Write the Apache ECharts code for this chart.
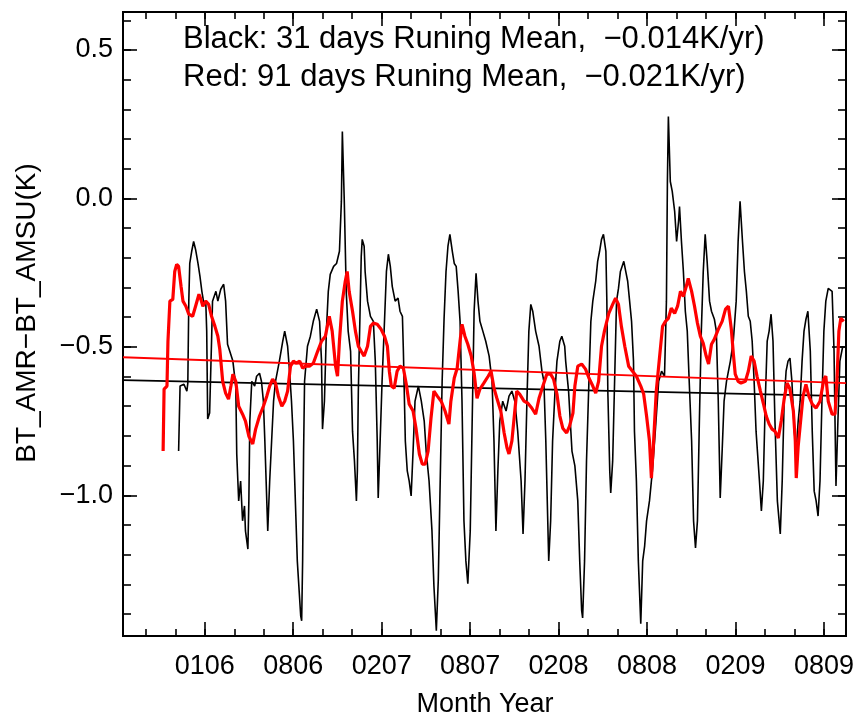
<!DOCTYPE html>
<html><head><meta charset="utf-8">
<script src="https://cdn.jsdelivr.net/npm/echarts@6/dist/echarts.min.js"></script>
<style>html,body{margin:0;padding:0;background:#fff}#c{width:857px;height:719px}</style>
</head><body><div id="c"></div>
<script>
// x unit: days from the "0106" tick; ticks every half year
const xTickLabels = ['0106','0806','0207','0807','0208','0808','0209','0809'];
const xTickDays = [0, 182.6, 365.2, 547.8, 730.4, 913.0, 1095.6, 1278.2];
const xMinorStep = 60.87;
const yTickValues = [-1.0, -0.5, 0.0, 0.5];
const xMin = -168.8, xMax = 1323.6, yMin = -1.474, yMax = 0.628;

const blackDays = [-54,-51,-43,-37,-35,-33,-31,-27,-23,-19,
-14,-10,-6,-2,2,4,6,10,14,16,
23,27,33,39,43,47,58,64,66,70,
74,78,82,84,89,91,93,97,103,107,
113,117,121,124,128,130,134,138,142,146,
154,161,165,171,175,179,183,187,191,198,
200,202,204,206,212,218,224,231,237,241,
243,247,251,255,259,266,272,278,282,284,
288,292,296,301,305,309,313,315,317,321,
323,325,329,331,336,342,348,352,356,358,
362,366,371,375,379,383,387,393,399,403,
408,410,414,418,422,426,430,434,441,447,
453,457,463,469,473,478,482,486,490,494,
498,502,506,511,515,519,523,527,531,535,
539,543,548,552,556,560,564,568,574,580,
587,593,597,601,605,609,615,622,628,634,
640,646,653,657,661,665,669,673,677,683,
690,696,700,704,708,710,714,718,723,727,
733,737,743,745,751,758,764,770,774,778,
780,784,788,793,797,801,807,811,815,819,
823,828,830,832,836,838,842,846,850,854,
858,865,869,873,877,881,885,887,891,895,
900,904,908,912,918,924,930,937,943,949,
953,955,957,961,965,970,974,978,980,984,
988,992,996,1000,1005,1009,1013,1017,1021,1025,
1029,1033,1037,1042,1046,1052,1056,1060,1064,1068,
1072,1077,1081,1085,1091,1097,1101,1105,1110,1114,
1118,1122,1126,1130,1134,1138,1145,1149,1153,1157,
1161,1165,1169,1173,1177,1182,1188,1192,1196,1200,
1204,1208,1212,1217,1221,1225,1229,1233,1237,1241,
1245,1250,1254,1258,1262,1266,1270,1274,1278,1282,
1287,1291,1295,1299,1301,1303,1307,1311,1317];
const blackValues = [
-0.851,-0.632,-0.626,-0.649,-0.622,-0.346,-0.219,-0.178,-0.145,-0.172,
-0.219,-0.262,-0.313,-0.353,-0.346,-0.447,-0.743,-0.723,-0.481,-0.346,
-0.313,-0.346,-0.306,-0.289,-0.346,-0.491,-0.548,-0.632,-0.861,-1.019,
-0.952,-1.086,-1.036,-1.120,-1.181,-1.019,-0.750,-0.616,-0.632,-0.599,
-0.589,-0.616,-0.683,-0.817,-1.019,-1.120,-0.952,-0.817,-0.683,-0.616,
-0.548,-0.481,-0.447,-0.498,-0.582,-0.683,-0.817,-1.019,-1.221,-1.406,
-1.423,-1.221,-0.851,-0.616,-0.498,-0.464,-0.414,-0.373,-0.414,-0.548,
-0.777,-0.683,-0.447,-0.313,-0.256,-0.229,-0.219,-0.178,-0.010,0.225,
-0.010,-0.313,-0.447,-0.515,-0.784,-0.885,-1.019,-0.918,-0.649,-0.346,
-0.195,-0.138,-0.161,-0.246,-0.346,-0.397,-0.414,-0.548,-0.817,-1.009,
-0.817,-0.616,-0.414,-0.246,-0.188,-0.229,-0.296,-0.346,-0.336,-0.380,
-0.397,-0.515,-0.817,-0.918,-0.952,-1.002,-0.851,-0.683,-0.632,-0.683,
-0.750,-0.851,-0.952,-1.120,-1.305,-1.456,-1.288,-0.952,-0.616,-0.404,
-0.246,-0.161,-0.121,-0.178,-0.219,-0.229,-0.313,-0.414,-0.683,-1.086,
-1.221,-1.298,-1.120,-0.750,-0.380,-0.252,-0.346,-0.414,-0.447,-0.481,
-0.531,-0.616,-0.817,-1.120,-0.918,-0.750,-0.683,-0.716,-0.666,-0.649,
-0.683,-0.784,-0.952,-1.130,-0.952,-0.683,-0.447,-0.357,-0.380,-0.447,
-0.498,-0.582,-0.616,-0.817,-1.086,-1.221,-1.086,-0.817,-0.649,-0.548,
-0.481,-0.464,-0.498,-0.548,-0.649,-0.851,-0.901,-1.019,-1.221,-1.389,
-1.413,-1.221,-0.885,-0.616,-0.414,-0.346,-0.279,-0.212,-0.178,-0.138,
-0.121,-0.178,-0.346,-0.649,-0.918,-0.992,-0.885,-0.616,-0.346,-0.303,
-0.246,-0.212,-0.246,-0.279,-0.346,-0.414,-0.548,-0.784,-0.952,-1.221,
-1.433,-1.221,-1.171,-1.086,-1.019,-0.918,-0.784,-0.616,-0.582,-0.599,
-0.346,0.057,0.276,0.057,0.024,-0.044,-0.145,-0.077,-0.027,-0.145,
-0.246,-0.380,-0.447,-0.616,-0.817,-1.086,-1.177,-1.086,-0.750,-0.447,
-0.246,-0.121,-0.212,-0.346,-0.380,-0.407,-0.447,-0.683,-1.009,-0.851,
-0.683,-0.616,-0.582,-0.548,-0.481,-0.346,-0.145,-0.010,-0.145,-0.246,
-0.313,-0.397,-0.414,-0.481,-0.616,-0.784,-0.952,-1.053,-0.952,-0.683,
-0.481,-0.447,-0.390,-0.481,-0.750,-1.019,-1.130,-0.952,-0.683,-0.582,
-0.548,-0.538,-0.616,-0.784,-0.851,-0.750,-0.683,-0.548,-0.447,-0.407,
-0.380,-0.515,-0.784,-0.986,-1.019,-1.070,-0.952,-0.683,-0.447,-0.346,
-0.303,-0.303,-0.313,-0.515,-0.750,-0.969,-0.750,-0.548,-0.498];

const redDays = [-86,-84,-78,-76,-72,-66,-62,-58,-54,-49,
-45,-39,-33,-25,-19,-12,-8,-4,2,8,
14,21,27,31,37,43,49,54,58,64,
70,78,84,91,99,105,113,121,128,134,
140,146,152,159,165,171,177,183,189,196,
202,208,216,224,233,241,249,257,263,270,
274,278,284,290,294,298,305,311,317,323,
329,336,342,348,356,364,371,377,381,385,
391,397,403,410,416,422,430,436,443,449,
455,461,467,473,480,488,496,504,508,515,
521,527,531,537,543,550,556,562,568,576,
585,591,597,603,611,618,624,628,634,640,
644,650,659,667,675,683,690,698,706,714,
720,727,733,739,747,753,760,764,770,778,
786,793,801,807,813,819,825,834,842,848,
854,860,867,875,883,891,900,906,912,918,
922,926,932,939,945,951,957,963,970,976,
982,988,994,998,1005,1011,1017,1023,1029,1035,
1040,1046,1052,1060,1068,1075,1081,1087,1091,1095,
1101,1107,1116,1122,1128,1134,1140,1147,1153,1159,
1165,1171,1177,1184,1190,1196,1202,1208,1215,1219,
1221,1225,1229,1235,1241,1247,1254,1262,1270,1278,
1282,1287,1295,1301,1305,1309,1313,1319];
const redValues = [
-0.851,-0.642,-0.632,-0.481,-0.346,-0.340,-0.246,-0.222,-0.229,-0.296,
-0.346,-0.363,-0.390,-0.397,-0.363,-0.323,-0.340,-0.363,-0.346,-0.357,
-0.397,-0.431,-0.464,-0.508,-0.616,-0.656,-0.676,-0.632,-0.592,-0.616,
-0.700,-0.727,-0.750,-0.801,-0.827,-0.777,-0.733,-0.700,-0.666,-0.632,
-0.609,-0.622,-0.666,-0.700,-0.683,-0.649,-0.565,-0.548,-0.555,-0.548,
-0.572,-0.565,-0.565,-0.555,-0.515,-0.481,-0.464,-0.397,-0.447,-0.565,
-0.599,-0.481,-0.346,-0.279,-0.246,-0.313,-0.380,-0.447,-0.498,-0.515,
-0.531,-0.498,-0.431,-0.420,-0.424,-0.441,-0.464,-0.498,-0.582,-0.632,
-0.639,-0.582,-0.565,-0.572,-0.626,-0.693,-0.716,-0.774,-0.861,-0.895,
-0.895,-0.851,-0.740,-0.649,-0.666,-0.683,-0.716,-0.760,-0.683,-0.605,
-0.572,-0.481,-0.424,-0.464,-0.491,-0.531,-0.589,-0.673,-0.642,-0.622,
-0.599,-0.582,-0.639,-0.673,-0.716,-0.790,-0.841,-0.861,-0.817,-0.716,
-0.649,-0.659,-0.683,-0.690,-0.706,-0.727,-0.673,-0.632,-0.592,-0.592,
-0.609,-0.659,-0.733,-0.774,-0.790,-0.767,-0.723,-0.632,-0.565,-0.558,
-0.575,-0.605,-0.632,-0.656,-0.616,-0.498,-0.447,-0.387,-0.357,-0.336,
-0.357,-0.431,-0.498,-0.565,-0.582,-0.599,-0.632,-0.659,-0.733,-0.817,
-0.942,-0.834,-0.649,-0.531,-0.431,-0.414,-0.404,-0.370,-0.387,-0.363,
-0.313,-0.330,-0.296,-0.269,-0.313,-0.363,-0.420,-0.464,-0.488,-0.531,
-0.558,-0.491,-0.474,-0.441,-0.414,-0.373,-0.363,-0.441,-0.521,-0.592,
-0.616,-0.622,-0.616,-0.582,-0.531,-0.548,-0.599,-0.649,-0.690,-0.733,
-0.760,-0.777,-0.784,-0.807,-0.750,-0.676,-0.622,-0.642,-0.716,-0.817,
-0.942,-0.834,-0.767,-0.666,-0.626,-0.666,-0.693,-0.706,-0.683,-0.609,
-0.599,-0.683,-0.727,-0.727,-0.616,-0.447,-0.404,-0.414];

const trendDays = [-168.8, 1323.6];
const blackTrend = [-0.612, -0.666];
const redTrend = [-0.535, -0.622];

const FONT = "'Liberation Sans', Arial, sans-serif";
const zip = (a, b) => a.map((v, i) => [v, b[i]]);

const xMinor = [];
for (let k = -2; k <= 21; k++) xMinor.push(+(k * xMinorStep).toFixed(2));
const yMinor = [];
for (let k = -14; k <= 6; k++) yMinor.push(+(k / 10).toFixed(1));

const lineW = 1.6;
function xAx(pos, ticks, len, labels) {
  return {
    type: 'value', position: pos, min: xMin, max: xMax, offset: 0,
    axisLine: { show: true, onZero: false, lineStyle: { color: '#000', width: 2 } },
    axisTick: { show: true, inside: true, length: len, customValues: ticks, lineStyle: { color: '#000', width: lineW } },
    axisLabel: labels ? {
      show: true, customValues: xTickDays, margin: 17, color: '#000', fontSize: 27, fontFamily: FONT,
      formatter: v => xTickLabels[Math.round(v / 182.6)]
    } : { show: false },
    splitLine: { show: false }
  };
}
function yAx(pos, ticks, len, labels) {
  return {
    type: 'value', position: pos, min: yMin, max: yMax, offset: 0,
    axisLine: { show: true, onZero: false, lineStyle: { color: '#000', width: 2 } },
    axisTick: { show: true, inside: true, length: len, customValues: ticks, lineStyle: { color: '#000', width: lineW } },
    axisLabel: labels ? {
      show: true, customValues: yTickValues, margin: 10, color: '#000', fontSize: 27, fontFamily: FONT,
      formatter: v => (v < -1e-9 ? '\u2212' : '') + Math.abs(v).toFixed(1)
    } : { show: false },
    splitLine: { show: false }
  };
}

const chart = echarts.init(document.getElementById('c'), null, { renderer: 'canvas' });
chart.setOption({
  animation: false,
  backgroundColor: '#fff',
  grid: { left: 123, right: 9, top: 12, bottom: 83, containLabel: false },
  xAxis: [
    xAx('bottom', xTickDays, 14, true),
    xAx('bottom', xMinor, 7, false),
    xAx('top', xTickDays, 14, false),
    xAx('top', xMinor, 7, false)
  ],
  yAxis: [
    yAx('left', yTickValues, 14, true),
    yAx('left', yMinor, 8, false),
    yAx('right', yTickValues, 14, false),
    yAx('right', yMinor, 8, false)
  ],
  series: [
    { type: 'line', data: zip(blackDays, blackValues), showSymbol: false, symbol: 'none',
      lineStyle: { color: '#000', width: 1.6 }, z: 2 },
    { type: 'line', data: zip(trendDays, blackTrend), showSymbol: false, symbol: 'none',
      lineStyle: { color: '#000', width: 1.8 }, z: 3 },
    { type: 'line', data: zip(redDays, redValues), showSymbol: false, symbol: 'none',
      lineStyle: { color: '#ff0000', width: 3.2 }, z: 4 },
    { type: 'line', data: zip(trendDays, redTrend), showSymbol: false, symbol: 'none',
      lineStyle: { color: '#ff0000', width: 1.8 }, z: 5 }
  ],
  graphic: [
    { type: 'text', x: 183, y: 39, style: { text: 'Black: 31 days Runing Mean,  \u22120.014K/yr)', fill: '#000',
      font: '31px ' + FONT, align: 'left', verticalAlign: 'middle' } },
    { type: 'text', x: 183, y: 77, style: { text: 'Red: 91 days Runing Mean,  \u22120.021K/yr)', fill: '#000',
      font: '31px ' + FONT, align: 'left', verticalAlign: 'middle' } },
    { type: 'text', x: 485, y: 705, style: { text: 'Month Year', fill: '#000',
      font: '27px ' + FONT, align: 'center', verticalAlign: 'middle' } },
    { type: 'text', x: 27, y: 313, rotation: Math.PI / 2, style: { text: 'BT_AMR\u2212BT_AMSU(K)', fill: '#000',
      font: '28px ' + FONT, align: 'center', verticalAlign: 'middle' } }
  ]
});
</script></body></html>
